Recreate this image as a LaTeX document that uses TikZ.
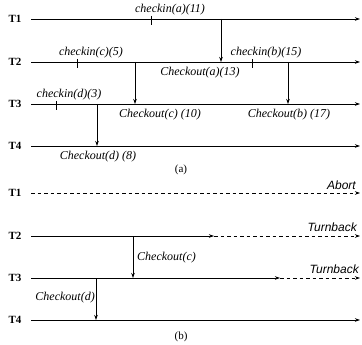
\documentclass[tikz,border=0pt]{standalone}
\usepackage{fontspec}
\setmainfont{Liberation Serif}
\newfontfamily\gothic{Liberation Sans}
\usetikzlibrary{arrows.meta}
\begin{document}
\begin{tikzpicture}[x=1pt,y=-1pt,
  tip/.style={-{Stealth[length=5pt,width=3.5pt]}},
  tline/.style={line width=0.8pt,tip},
  dline/.style={line width=0.7pt,dash pattern=on 3.5pt off 3pt,tip},
  msg/.style={line width=0.8pt,tip},
  tlabel/.style={font=\fontsize{11}{13}\selectfont\bfseries,anchor=center},
  lab/.style={font=\fontsize{12}{14}\selectfont\itshape,inner sep=1pt},
  slab/.style={font=\fontsize{12}{14}\selectfont\gothic\itshape,inner sep=1pt},
  tick/.style={line width=0.8pt}]
\useasboundingbox (0,0) rectangle (362,345);

% ---------- (a) ----------
\foreach \n/\y in {1/19,2/62,3/104,4/146}{
  \node[tlabel] (a\n) at (15,\y) {T\n};
  \coordinate (as\n) at (31,\y);
  \coordinate (ae\n) at (360,\y);
  \draw[tline] (as\n) -- (ae\n);
}
% checkin ticks
\coordinate (ka) at (151,19);  \draw[tick] (151,16) -- (151,25);
\coordinate (kc) at (77,62);   \draw[tick] (77,59) -- (77,68);
\coordinate (kd) at (56,104);  \draw[tick] (56,101) -- (56,110);
\coordinate (kb) at (252,62);  \draw[tick] (252,59) -- (252,68);
\node[lab] (lka) at (170,10) {checkin(a)(11)};
\node[lab] (lkc) at (91,53) {checkin(c)(5)};
\node[lab] (lkd) at (69,95) {checkin(d)(3)};
\node[lab] (lkb) at (266,53) {checkin(b)(15)};
% checkout messages
\coordinate (c1s) at (221,19);  \coordinate (c1e) at (221,62);
\coordinate (c2s) at (135,62);  \coordinate (c2e) at (135,104);
\coordinate (c3s) at (288,62);  \coordinate (c3e) at (288,104);
\coordinate (c4s) at (97,104);  \coordinate (c4e) at (97,146);
\draw[msg] (c1s) -- (c1e);
\draw[msg] (c2s) -- (c2e);
\draw[msg] (c3s) -- (c3e);
\draw[msg] (c4s) -- (c4e);
\node[lab] (lc1) at (200,73) {Checkout(a)(13)};
\node[lab] (lc2) at (160,115) {Checkout(c) (10)};
\node[lab] (lc3) at (289,115) {Checkout(b) (17)};
\node[lab] (lc4) at (98,157) {Checkout(d) (8)};
\node[font=\fontsize{11}{13}\selectfont] (capa) at (181,170) {(a)};

% ---------- (b) ----------
\foreach \n/\y in {1/193,2/236,3/278,4/320}{
  \node[tlabel] (b\n) at (15,\y) {T\n};
  \coordinate (bs\n) at (31,\y);
  \coordinate (be\n) at (360,\y);
}
\draw[dline] (bs1) -- (be1);
\coordinate (bm2) at (214,236);
\draw[tline] (bs2) -- (bm2);
\draw[dline] (bm2) -- (be2);
\coordinate (bm3) at (280,278);
\draw[tline] (bs3) -- (bm3);
\draw[dline] (bm3) -- (be3);
\draw[tline] (bs4) -- (be4);
\node[slab,anchor=east] (lab1) at (357,185) {Abort};
\node[slab,anchor=east] (ltb2) at (358,227) {Turnback};
\node[slab,anchor=east] (ltb3) at (360,269) {Turnback};
\coordinate (d1s) at (133,236); \coordinate (d1e) at (133,278);
\coordinate (d2s) at (96,278);  \coordinate (d2e) at (96,320);
\draw[msg] (d1s) -- (d1e);
\draw[msg] (d2s) -- (d2e);
\node[lab,anchor=west] (ld1) at (136,258) {Checkout(c)};
\node[lab,anchor=east] (ld2) at (96,298) {Checkout(d)};
\node[font=\fontsize{11}{13}\selectfont] (capb) at (181,337) {(b)};
\end{tikzpicture}
\end{document}
